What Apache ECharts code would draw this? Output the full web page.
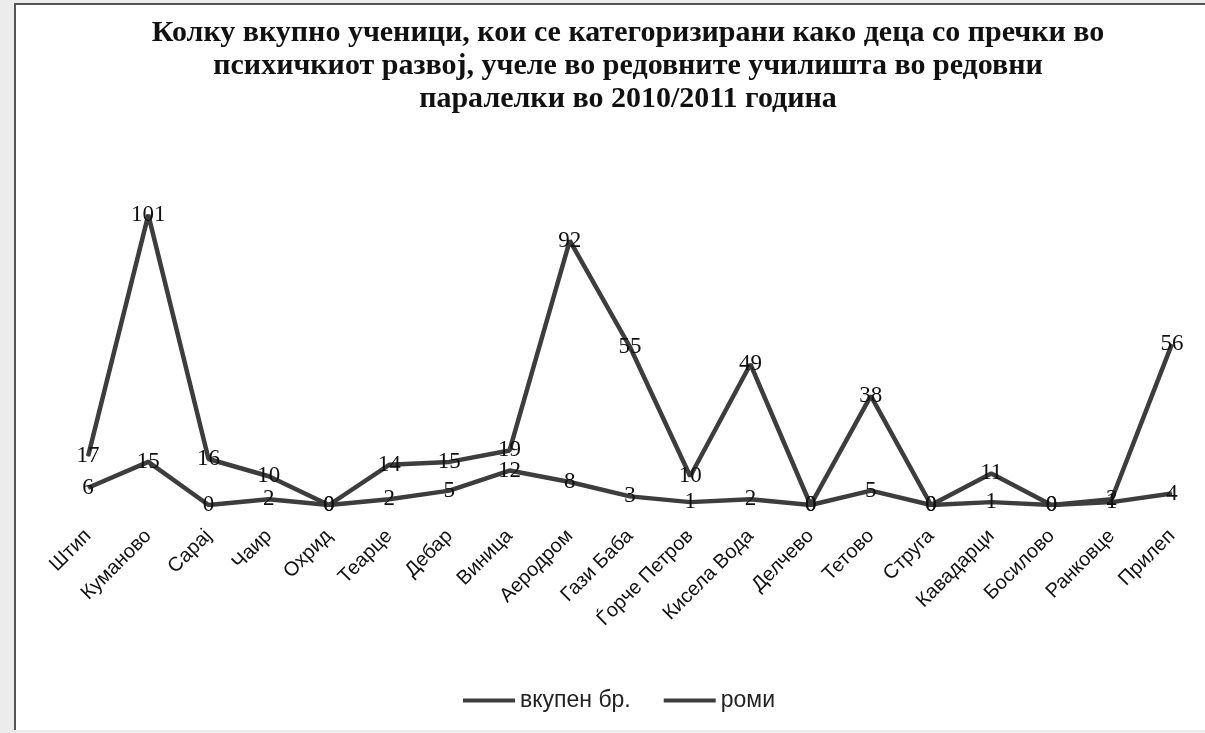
<!DOCTYPE html>
<html>
<head>
<meta charset="utf-8">
<script src="https://cdn.jsdelivr.net/npm/echarts@6/dist/echarts.min.js"></script>
<style>
  html, body { margin: 0; padding: 0; background: #ececec; }
  #frame {
    position: absolute; left: 14px; top: 3px; width: 1191px; height: 727px;
    background: #fff; border-left: 2px solid #555; border-top: 2px solid #555;
    box-sizing: border-box;
  }
  #chart { position: absolute; left: 0; top: 0; width: 1205px; height: 733px; }
</style>
</head>
<body>
<div id="frame"></div>
<div id="chart"></div>
<script>
  const cities = ['Штип', 'Куманово', 'Сарај', 'Чаир', 'Охрид', 'Теарце', 'Дебар', 'Виница', 'Аеродром',
    'Гази Баба', 'Ѓорче Петров', 'Кисела Вода', 'Делчево', 'Тетово', 'Струга', 'Кавадарци',
    'Босилово', 'Ранковце', 'Прилеп']
  const total = [17, 101, 16, 10, 0, 14, 15, 19, 92, 55, 10, 49, 0, 38, 0, 11, 0, 2, 56]
  const roma = [6, 15, 0, 2, 0, 2, 5, 12, 8, 3, 1, 2, 0, 5, 0, 1, 0, 1, 4]

  const chart = echarts.init(document.getElementById('chart'))

  const lineSeries = (name, data) => ({
    name: name,
    type: 'line',
    data: data,
    symbol: 'circle',
    symbolSize: 1,
    color: '#3d3d3d',
    lineStyle: { width: 4.5, color: '#3d3d3d' },
    label: {
      show: true,
      position: 'inside',
      color: '#111',
      fontFamily: 'Liberation Serif',
      fontSize: 23,
    },
  })

  const option = {
    animation: false,
    title: {
      text: 'Колку вкупно ученици, кои се категоризирани како деца со пречки во\nпсихичкиот развој, учеле во редовните училишта во редовни\nпаралелки во 2010/2011 година',
      left: 623,
      top: 12,
      textAlign: 'center',
      textStyle: {
        fontFamily: 'Liberation Serif',
        fontWeight: 'bold',
        fontSize: 30,
        lineHeight: 33,
        color: '#111',
      },
    },
    legend: {
      data: ['вкупен бр.', 'роми'],
      left: 458,
      top: 684,
      itemWidth: 52,
      itemHeight: 4,
      itemGap: 33,
      icon: 'rect',
      textStyle: { fontFamily: 'Liberation Sans', fontSize: 23, color: '#222' },
    },
    grid: { left: 58, right: 3, top: 189, bottom: 228 },
    xAxis: {
      type: 'category',
      data: cities,
      boundaryGap: true,
      axisLine: { show: false },
      axisTick: { show: false },
      axisLabel: {
        rotate: 45,
        interval: 0,
        margin: 28,
        fontFamily: 'Liberation Sans',
        fontSize: 20,
        color: '#111',
      },
    },
    yAxis: {
      type: 'value',
      min: 0,
      max: 110,
      show: false,
      splitLine: { show: false },
    },
    series: [lineSeries('вкупен бр.', total), lineSeries('роми', roma)],
  }

  chart.setOption(option)
</script>
</body>
</html>
